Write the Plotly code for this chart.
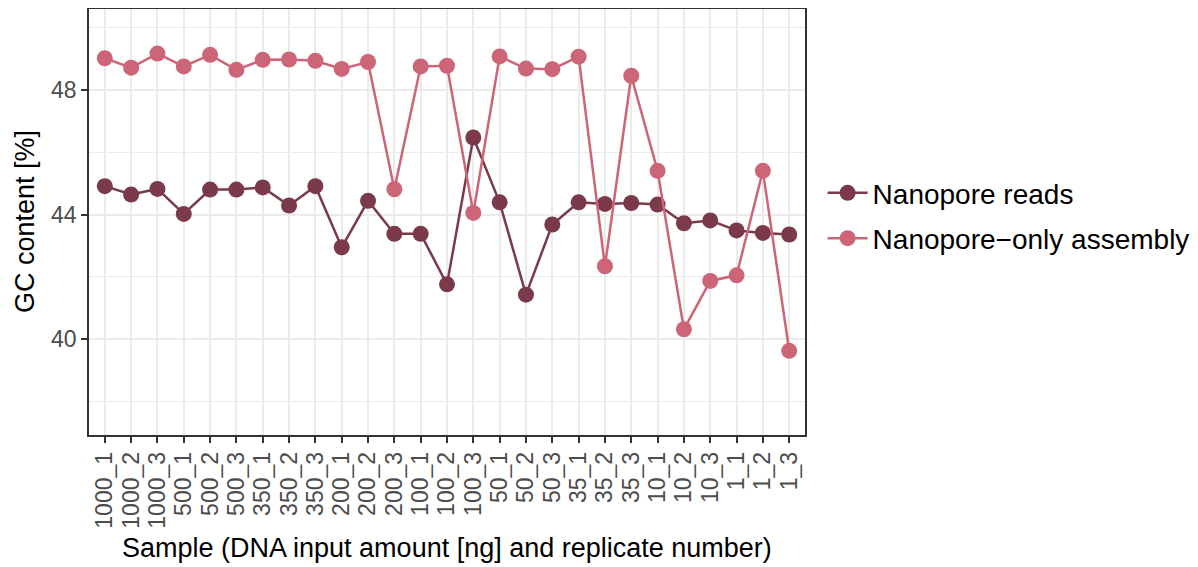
import plotly.graph_objects as go

samples = ["1000_1", "1000_2", "1000_3", "500_1", "500_2", "500_3",
           "350_1", "350_2", "350_3", "200_1", "200_2", "200_3",
           "100_1", "100_2", "100_3", "50_1", "50_2", "50_3",
           "35_1", "35_2", "35_3", "10_1", "10_2", "10_3",
           "1_1", "1_2", "1_3"]

nanopore_reads = [44.91, 44.64, 44.82, 44.02, 44.80, 44.80,
                  44.87, 44.29, 44.91, 42.95, 44.44, 43.38,
                  43.38, 41.76, 46.47, 44.39, 41.43, 43.68,
                  44.39, 44.34, 44.37, 44.32, 43.72, 43.81,
                  43.49, 43.41, 43.36]

nanopore_assembly = [49.01, 48.71, 49.16, 48.75, 49.12, 48.64,
                     48.96, 48.97, 48.93, 48.67, 48.89, 44.81,
                     48.75, 48.77, 44.05, 49.07, 48.68, 48.66,
                     49.06, 42.34, 48.45, 45.40, 40.32, 41.87,
                     42.05, 45.40, 39.63]

series = [
    ("Nanopore reads", nanopore_reads, "#7b3a4a"),
    ("Nanopore\u2212only assembly", nanopore_assembly, "#cc6677"),
]

fig = go.Figure()
for i, (name, vals, color) in enumerate(series):
    fig.add_trace(go.Scatter(
        x=samples, y=vals, name=name, mode="lines+markers",
        line=dict(color=color, width=2.5),
        marker=dict(color=color, size=16),
        legendgroup=f"g{i}",
    ))

font = "Liberation Sans, Arial, Helvetica, sans-serif"
n = len(samples)
fig.update_layout(
    width=1190, height=559,
    margin=dict(l=81, r=393, t=1, b=132, autoexpand=False),
    plot_bgcolor="white", paper_bgcolor="white",
    font=dict(family=font, size=20, color="black"),
    showlegend=True,
    legend=dict(x=1.0246, xanchor="left", y=0.515, yanchor="middle",
                font=dict(size=28, color="black"), tracegroupgap=6,
                itemwidth=40, bgcolor="rgba(0,0,0,0)"),
    xaxis=dict(
        type="category", categoryorder="array", categoryarray=samples,
        range=[-0.6, n - 0.4], automargin=False,
        tickmode="array", tickvals=samples, ticktext=samples,
        tickangle=-90, tickfont=dict(size=23, color="#4d4d4d"),
        ticks="outside", ticklen=6, tickwidth=1.5, tickcolor="#333333",
        showgrid=True, gridcolor="#ebebeb", gridwidth=2,
        showline=True, linecolor="#333333", linewidth=1.5, mirror=True,
        zeroline=False,
    ),
    yaxis=dict(
        range=[36.93, 50.59], tickmode="linear", tick0=40, dtick=4,
        automargin=False,
        tickfont=dict(size=23, color="#4d4d4d"),
        ticks="outside", ticklen=6, tickwidth=1.5, tickcolor="#333333",
        showgrid=True, gridcolor="#ebebeb", gridwidth=2,
        minor=dict(tick0=38, dtick=4, showgrid=True, gridcolor="#ebebeb",
                   gridwidth=1, ticks=""),
        showline=True, linecolor="#333333", linewidth=1.5, mirror=True,
        zeroline=False,
    ),
    annotations=[
        dict(text="Sample (DNA input amount [ng] and replicate number)",
             xref="paper", yref="paper", x=0.5, y=0, xanchor="center",
             yanchor="middle", yshift=-113, showarrow=False,
             font=dict(size=27, color="black")),
        dict(text="GC content [%]", xref="paper", yref="paper",
             x=0, y=0.5, xanchor="center", yanchor="middle", xshift=-64,
             textangle=-90, showarrow=False,
             font=dict(size=27, color="black")),
    ],
)

fig.write_html("out.html")
